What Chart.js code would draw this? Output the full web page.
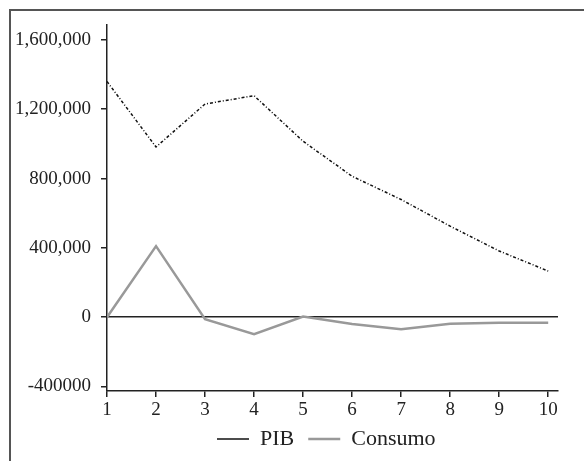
<!DOCTYPE html>
<html>
<head>
<meta charset="utf-8">
<script src="https://cdn.jsdelivr.net/npm/chart.js@4/dist/chart.umd.min.js"></script>
<style>
    html, body { margin: 0; padding: 0; background: #fff; }
    #wrap { position: relative; width: 584px; height: 461px; overflow: hidden; }
    #frame { position: absolute; left: 9px; top: 9px; width: 600px; height: 500px;
             border-top: 2px solid #555; border-left: 2px solid #555; }
    #chart { position: absolute; left: 0; top: 0; }
</style>
</head>
<body>
<div id="wrap">
    <div id="frame"></div>
    <canvas id="chart" width="584" height="461"></canvas>
</div>
<script>
const periods = [1, 2, 3, 4, 5, 6, 7, 8, 9, 10];
const pib = [1360000, 982000, 1230000, 1278000, 1015000, 813000, 679000, 525000, 382000, 266000];
const consumo = [0, 410000, -12000, -98000, 4000, -40000, -70000, -38000, -32000, -32000];
const yTicks = [-400000, 0, 400000, 800000, 1200000, 1600000];
const yTickLabels = ['-400000', '0', '400,000', '800,000', '1,200,000', '1,600,000'];

const serif = '"Liberation Serif", "DejaVu Serif", serif';
const ink = '#222';

// legend sits right of centre in the original
const legendShift = {
    id: 'legendShift',
    afterLayout(chart) {
        chart.legend.left = 203;
        chart.legend.top -= 7;
    }
};

const ctx = document.getElementById('chart');

new Chart(ctx, {
    type: 'line',
    data: {
        datasets: [{
            label: 'PIB',
            data: periods.map((p, i) => ({ x: p, y: pib[i] })),
            borderColor: '#111',
            backgroundColor: '#111',
            borderWidth: 1.5,
            borderDash: [3, 2, 1, 2],
            pointRadius: 0,
            tension: 0
        }, {
            label: 'Consumo',
            data: periods.map((p, i) => ({ x: p, y: consumo[i] })),
            borderColor: '#999',
            backgroundColor: '#999',
            borderWidth: 2.5,
            pointRadius: 0,
            tension: 0
        }]
    },
    plugins: [legendShift],
    options: {
        responsive: false,
        animation: false,
        layout: { padding: { top: 25, right: 26, left: 0, bottom: -6 } },
        plugins: {
            tooltip: { enabled: false },
            legend: {
                position: 'bottom',
                align: 'start',
                labels: {
                    usePointStyle: true,
                    pointStyle: 'line',
                    pointStyleWidth: 32,
                    boxHeight: 2,
                    padding: 14,
                    color: ink,
                    font: { family: serif, size: 22 }
                }
            }
        },
        scales: {
            x: {
                type: 'linear',
                min: 1,
                max: 10.2,
                afterBuildTicks: s => { s.ticks = periods.map(v => ({ value: v })); },
                afterFit: s => { s.height = 30; },
                grid: { drawOnChartArea: false, tickLength: 6, tickColor: ink, lineWidth: 1.5 },
                border: { color: ink, width: 1.5 },
                ticks: {
                    color: ink,
                    padding: 2,
                    maxRotation: 0,
                    font: { family: serif, size: 19 },
                    callback: v => String(v)
                }
            },
            y: {
                min: -426000,
                max: 1686000,
                afterBuildTicks: s => { s.ticks = yTicks.map(v => ({ value: v })); },
                afterFit: s => { s.width = 107; },
                grid: {
                    color: c => (c.tick && c.tick.value === 0) ? ink : 'transparent',
                    tickColor: ink,
                    tickLength: 6,
                    lineWidth: 1.5
                },
                border: { color: ink, width: 1.5 },
                ticks: {
                    color: ink,
                    padding: 10,
                    font: { family: serif, size: 19 },
                    callback: v => yTickLabels[yTicks.indexOf(v)]
                }
            }
        }
    }
});
</script>
</body>
</html>
